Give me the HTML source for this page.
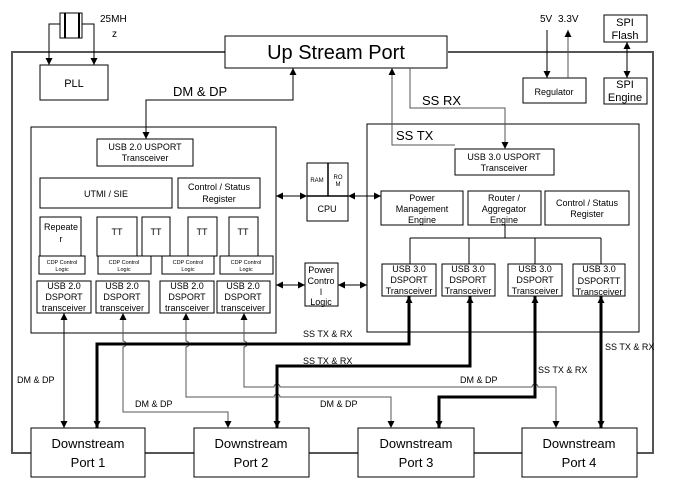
<!DOCTYPE html>
<html><head><meta charset="utf-8"><style>
html,body{margin:0;padding:0;background:#fff;}
svg{display:block;font-family:"Liberation Sans",Arial,sans-serif;}
text{fill:#000;}
</style></head><body>
<svg width="673" height="497" viewBox="0 0 673 497" xmlns="http://www.w3.org/2000/svg">
<defs>
<marker id="a" viewBox="0 0 10 10" refX="10" refY="5" markerWidth="7" markerHeight="7" markerUnits="userSpaceOnUse" orient="auto-start-reverse"><path d="M0,0L10,5L0,10z" fill="#000"/></marker>
<marker id="b" viewBox="0 0 10 10" refX="10" refY="5" markerWidth="4" markerHeight="4" orient="auto-start-reverse"><path d="M0,0L10,5L0,10z" fill="#000"/></marker>
</defs>
<g fill="none" stroke="#555" stroke-width="2">
<path d="M225,52H12V453H31M145,453H194M309,453H358M474,453H522M637,453H653V52H448"/>
</g>
<g fill="#fff" stroke="#000" stroke-width="1">
<rect x="225" y="36" width="222" height="32"/>
<rect x="40" y="65" width="68" height="35"/>
<rect x="60" y="13" width="22" height="25"/>
<rect x="31" y="127" width="245" height="206"/>
<rect x="367" y="124" width="272" height="208"/>
<rect x="97" y="139" width="96" height="27"/>
<rect x="40" y="178" width="132" height="30"/>
<rect x="178" y="178" width="82" height="30"/>
<rect x="40" y="217" width="41" height="39"/>
<rect x="97" y="217" width="40" height="39"/>
<rect x="142" y="217" width="28" height="39"/>
<rect x="188" y="217" width="29" height="39"/>
<rect x="229" y="217" width="29" height="39"/>
<rect x="39" y="256" width="46" height="18"/>
<rect x="98" y="256" width="53" height="18"/>
<rect x="162" y="256" width="52" height="18"/>
<rect x="220" y="256" width="53" height="18"/>
<rect x="37" y="281" width="54" height="32"/>
<rect x="96" y="281" width="53" height="32"/>
<rect x="160" y="281" width="54" height="32"/>
<rect x="217" y="281" width="53" height="32"/>
<rect x="307" y="163" width="41" height="58"/>
<rect x="305" y="263" width="33" height="43"/>
<rect x="455" y="149" width="99" height="26"/>
<rect x="381" y="191" width="82" height="34"/>
<rect x="468" y="191" width="73" height="34"/>
<rect x="545" y="191" width="84" height="34"/>
<rect x="382" y="264" width="54" height="32"/>
<rect x="442" y="264" width="53" height="32"/>
<rect x="508" y="264" width="54" height="32"/>
<rect x="573" y="264" width="52" height="32"/>
<rect x="523" y="78" width="63" height="25"/>
<rect x="604" y="15" width="43" height="27"/>
<rect x="604" y="78" width="43" height="26"/>
<rect x="31" y="428" width="114" height="49"/>
<rect x="194" y="428" width="115" height="49"/>
<rect x="358" y="428" width="116" height="49"/>
<rect x="522" y="428" width="115" height="49"/>
</g>
<g stroke="#000" fill="none">
<path d="M65,13V38M79,13V38" stroke-width="2"/>
<path d="M328,163V196M307,196H348" stroke-width="1.5"/>
</g>
<g stroke="#000" stroke-width="1" fill="none">
<path d="M60,24H49V65" marker-end="url(#a)"/>
<path d="M82,24H94V65" marker-end="url(#a)"/>
<path d="M146,139V100H293V68" marker-start="url(#a)" marker-end="url(#a)"/>
<path d="M410,68V108H505V149" stroke="#555" marker-end="url(#a)"/>
<path d="M455,145H392V68" stroke="#555" marker-end="url(#a)"/>
<path d="M276,196H307" marker-start="url(#a)" marker-end="url(#a)"/>
<path d="M348,196H381" marker-start="url(#a)" marker-end="url(#a)"/>
<path d="M276,285H305" marker-start="url(#a)" marker-end="url(#a)"/>
<path d="M338,285H367" marker-start="url(#a)" marker-end="url(#a)"/>
<path d="M505,225V238M410,238H601M410,238V264M469,238V264M535,238V264M601,238V264"/>
<path d="M547,30V78" marker-end="url(#a)"/>
<path d="M568,78V30" stroke="#555" marker-end="url(#a)"/>
<path d="M627,42V78" marker-start="url(#a)" marker-end="url(#a)"/>
<path d="M64,313V428" marker-start="url(#a)" marker-end="url(#a)"/>
<path d="M123,313V341a3,3 0 0 1 0,6V412H228V428" stroke="#555" marker-start="url(#a)" marker-end="url(#a)"/>
<path d="M186,313V341a3,3 0 0 1 0,6V397H274a3,3 0 0 1 6,0H391V428" stroke="#555" marker-start="url(#a)" marker-end="url(#a)"/>
<path d="M244,313V341a3,3 0 0 1 0,6V387H274a3,3 0 0 1 6,0H532a3,3 0 0 1 6,0H556V428" stroke="#555" marker-start="url(#a)" marker-end="url(#a)"/>
</g>
<g stroke="#000" stroke-width="3" fill="none">
<path d="M409,296V344H97V428" marker-start="url(#a)" marker-end="url(#a)"/>
<path d="M470,296V366H277V428" marker-start="url(#a)" marker-end="url(#a)"/>
<path d="M535,296V397H439V428" marker-start="url(#a)" marker-end="url(#a)"/>
<path d="M601,296V428" marker-start="url(#a)" marker-end="url(#a)"/>
</g>
<g font-size="10">
<text x="100" y="22">25MH</text><text x="112" y="37">z</text>
<text x="540" y="22">5V</text><text x="558" y="22">3.3V</text>
</g>
<g text-anchor="middle">
<text x="336" y="59" font-size="20">Up Stream Port</text>
<text x="74" y="87" font-size="11">PLL</text>
<text x="145" y="150" font-size="9">USB 2.0 USPORT</text><text x="145" y="161" font-size="9">Transceiver</text>
<text x="106" y="197" font-size="9">UTMI / SIE</text>
<text x="219" y="190" font-size="9">Control / Status</text><text x="219" y="202" font-size="9">Register</text>
<text x="61" y="230" font-size="9">Repeate</text><text x="61" y="242" font-size="9">r</text>
<g font-size="9"><text x="117" y="235">TT</text><text x="156" y="235">TT</text><text x="202" y="235">TT</text><text x="243" y="235">TT</text></g>
<g font-size="5.5"><text x="62" y="264">CDP Control</text><text x="62" y="271">Logic</text>
<text x="124" y="264">CDP Control</text><text x="124" y="271">Logic</text>
<text x="188" y="264">CDP Control</text><text x="188" y="271">Logic</text>
<text x="246" y="264">CDP Control</text><text x="246" y="271">Logic</text></g>
<g font-size="9">
<text x="64" y="289">USB 2.0</text><text x="64" y="300">DSPORT</text><text x="64" y="311">transceiver</text>
<text x="122" y="289">USB 2.0</text><text x="122" y="300">DSPORT</text><text x="122" y="311">transceiver</text>
<text x="187" y="289">USB 2.0</text><text x="187" y="300">DSPORT</text><text x="187" y="311">transceiver</text>
<text x="243" y="289">USB 2.0</text><text x="243" y="300">DSPORT</text><text x="243" y="311">transceiver</text>
<text x="327" y="212">CPU</text>
<text x="321" y="273">Power</text><text x="321" y="284">Contro</text><text x="321" y="295">l</text><text x="321" y="305">Logic</text>
<text x="504" y="160">USB 3.0 USPORT</text><text x="504" y="171">Transceiver</text>
<text x="422" y="201">Power</text><text x="422" y="212">Management</text><text x="422" y="223">Engine</text>
<text x="504" y="201">Router /</text><text x="504" y="212">Aggregator</text><text x="504" y="223">Engine</text>
<text x="587" y="206">Control / Status</text><text x="587" y="217">Register</text>
<text x="409" y="272">USB 3.0</text><text x="409" y="283">DSPORT</text><text x="409" y="294">Transceiver</text>
<text x="468" y="272">USB 3.0</text><text x="468" y="283">DSPORT</text><text x="468" y="294">Transceiver</text>
<text x="535" y="272">USB 3.0</text><text x="535" y="283">DSPORT</text><text x="535" y="294">Transceiver</text>
<text x="599" y="272">USB 3.0</text><text x="599" y="284">DSPORTT</text><text x="599" y="295">Transceiver</text>
<text x="554" y="95">Regulator</text>
</g>
<g font-size="6"><text x="317" y="182">RAM</text><text x="338" y="179">RO</text><text x="338" y="186">M</text></g>
<g font-size="11"><text x="625" y="26">SPI</text><text x="625" y="39">Flash</text><text x="625" y="88">SPI</text><text x="625" y="101">Engine</text></g>
<g font-size="13">
<text x="88" y="448">Downstream</text><text x="88" y="467">Port 1</text>
<text x="251" y="448">Downstream</text><text x="251" y="467">Port 2</text>
<text x="416" y="448">Downstream</text><text x="416" y="467">Port 3</text>
<text x="579" y="448">Downstream</text><text x="579" y="467">Port 4</text>
</g>
</g>
<g font-size="13"><text x="173" y="96">DM &amp; DP</text><text x="422" y="105">SS RX</text><text x="396" y="140">SS TX</text></g>
<g font-size="9">
<text x="303" y="337">SS TX &amp; RX</text>
<text x="303" y="364">SS TX &amp; RX</text>
<text x="538" y="373">SS TX &amp; RX</text>
<text x="605" y="350">SS TX &amp; RX</text>
<text x="17" y="383">DM &amp; DP</text>
<text x="135" y="407">DM &amp; DP</text>
<text x="320" y="407">DM &amp; DP</text>
<text x="460" y="383">DM &amp; DP</text>
</g>
</svg>
</body></html>
